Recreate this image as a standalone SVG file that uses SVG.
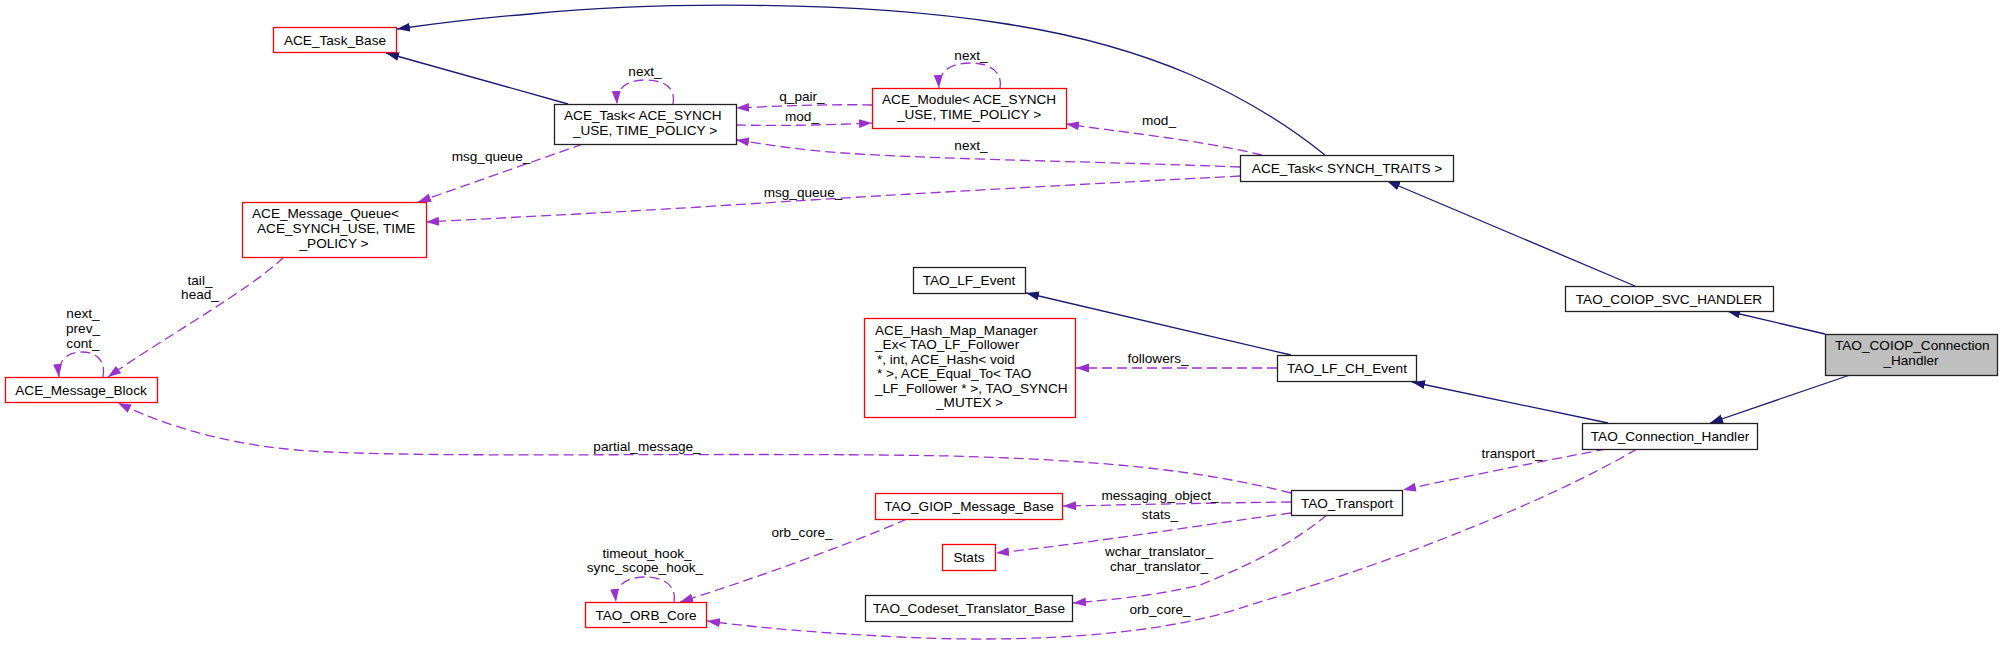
<svg xmlns="http://www.w3.org/2000/svg" width="2003" height="648" viewBox="0 0 2003 648">
<style>
text{font-family:"Liberation Sans",Arial,Helvetica,sans-serif;font-size:13.6px;fill:#000}
.m{text-anchor:middle}
.s{text-anchor:start}
rect{fill:#fff;stroke-width:1.3}
.red{stroke:#ff0000}
.blk{stroke:#222}
.cur{fill:#bfbfbf}
.inh{fill:none;stroke:#191970;stroke-width:1.3;marker-end:url(#ai)}
.col{fill:none;stroke:#9a32cd;stroke-width:1.3;stroke-dasharray:10,5;marker-end:url(#ac)}
</style>
<defs>
<marker id="ai" markerUnits="userSpaceOnUse" markerWidth="13" markerHeight="10" refX="13" refY="5" orient="auto"><path d="M0,0.5 L13,5 L0,9.5 Z" fill="#191970" stroke="none"/></marker>
<marker id="ac" markerUnits="userSpaceOnUse" markerWidth="13" markerHeight="10" refX="13" refY="5" orient="auto"><path d="M0,0.5 L13,5 L0,9.5 Z" fill="#9a32cd" stroke="none"/></marker>
</defs>
<rect x="0" y="0" width="2003" height="648" style="fill:#fff;stroke:none"/>
<g id="edges">
<path class="inh" d="M1325,155 C1250,95 1150,45 1000,23 C850,0 650,2 530,14 C480,18 440,23 397,29"/>
<path class="inh" d="M568,104 L386,53"/>
<path class="inh" d="M1291,355 L1026,293"/>
<path class="inh" d="M1608,423 L1412,382"/>
<path class="inh" d="M1850,375 L1710,423"/>
<path class="inh" d="M1825,334 L1727,311"/>
<path class="inh" d="M1635,286 L1387,181"/>
<path class="col" d="M673,104 C676,88 665,80 645,80 C627,80 616,88 617,104"/>
<path class="col" d="M872,105 C830,104 780,106 736,108"/>
<path class="col" d="M736,125 C780,126 830,125 872,123"/>
<path class="col" d="M1000,88 C1003,72 990,63 970,63 C950,63 938,72 939,88"/>
<path class="col" d="M1262,155 C1200,140 1120,132 1066,124"/>
<path class="col" d="M1240,167 C1120,162 950,160 843,153 C800,150 770,145 736,140"/>
<path class="col" d="M1240,176 C1050,186 900,194 700,207 C600,213 500,218 426,222"/>
<path class="col" d="M583,144 L418,202"/>
<path class="col" d="M284,257 C250,290 160,340 108,377"/>
<path class="col" d="M103,377 C106,360 96,352 82,352 C68,352 57,360 59,377"/>
<path class="col" d="M1291,493 C1200,470 1100,460 950,456 C750,452 450,458 330,452 C240,449 170,428 118,403"/>
<path class="col" d="M1291,502 C1200,503 1120,505 1063,506"/>
<path class="col" d="M1291,513 C1200,525 1100,542 996,553"/>
<path class="col" d="M1327,515 C1290,545 1250,565 1200,585 C1160,595 1110,600 1073,603"/>
<path class="col" d="M1606,449 C1550,460 1470,475 1403,490"/>
<path class="col" d="M1637,449 C1550,500 1400,560 1250,605 C1150,640 1000,642 900,637 C820,633 760,628 707,621"/>
<path class="col" d="M907,519 C840,548 750,580 680,602"/>
<path class="col" d="M674,602 C677,585 663,577 645,577 C627,577 614,585 616,602"/>
<path class="col" d="M1277,368 L1076,368"/>
<text class="m" x="645" y="76">next_</text>
<text class="m" x="802" y="101">q_pair_</text>
<text class="m" x="802" y="121">mod_</text>
<text class="m" x="971" y="60">next_</text>
<text class="m" x="1159" y="125">mod_</text>
<text class="m" x="971" y="150">next_</text>
<text class="m" x="803" y="197">msg_queue_</text>
<text class="m" x="491" y="161">msg_queue_</text>
<text class="m" x="200" y="285">tail_</text>
<text class="m" x="200" y="299">head_</text>
<text class="m" x="83" y="318">next_</text>
<text class="m" x="83" y="333">prev_</text>
<text class="m" x="83" y="348">cont_</text>
<text class="m" x="647" y="451">partial_message_</text>
<text class="m" x="1160" y="500">messaging_object_</text>
<text class="m" x="1160" y="519">stats_</text>
<text class="m" x="1159" y="556">wchar_translator_</text>
<text class="m" x="1159" y="571">char_translator_</text>
<text class="m" x="1512" y="458">transport_</text>
<text class="m" x="1160" y="614">orb_core_</text>
<text class="m" x="802" y="537">orb_core_</text>
<text class="m" x="647" y="558">timeout_hook_</text>
<text class="m" x="645" y="572">sync_scope_hook_</text>
<text class="m" x="1158" y="363">followers_</text>
</g>
<g id="n_ace_task_base"><rect class="red" x="273.5" y="27.5" width="123" height="25"/><text class="m" x="335" y="44.5">ACE_Task_Base</text></g>
<g id="n_ace_task_acesynch"><rect class="blk" x="554.5" y="104.5" width="182" height="40"/><text class="s" x="564" y="120">ACE_Task&lt; ACE_SYNCH</text><text class="m" x="645" y="134.5">_USE, TIME_POLICY &gt;</text></g>
<g id="n_ace_module"><rect class="red" x="872.5" y="88.5" width="194" height="40"/><text class="s" x="882" y="104">ACE_Module&lt; ACE_SYNCH</text><text class="m" x="969" y="119">_USE, TIME_POLICY &gt;</text></g>
<g id="n_ace_task_traits"><rect class="blk" x="1240.5" y="155.5" width="213" height="26"/><text class="m" x="1347" y="172.5">ACE_Task&lt; SYNCH_TRAITS &gt;</text></g>
<g id="n_ace_message_queue"><rect class="red" x="242.5" y="202.5" width="184" height="55"/><text class="s" x="252" y="218">ACE_Message_Queue&lt;</text><text class="s" x="257" y="233">ACE_SYNCH_USE, TIME</text><text class="m" x="334" y="247.5">_POLICY &gt;</text></g>
<g id="n_ace_message_block"><rect class="red" x="5.5" y="377.5" width="152" height="25"/><text class="m" x="81" y="394.5">ACE_Message_Block</text></g>
<g id="n_tao_lf_event"><rect class="blk" x="913.5" y="267.5" width="112" height="26"/><text class="m" x="969" y="284.5">TAO_LF_Event</text></g>
<g id="n_ace_hash_map"><rect class="red" x="864.5" y="318.5" width="211" height="99"/><text class="s" x="875" y="335">ACE_Hash_Map_Manager</text><text class="s" x="875" y="349.4">_Ex&lt; TAO_LF_Follower</text><text class="s" x="877" y="363.8">*, int, ACE_Hash&lt; void</text><text class="s" x="877" y="378.2">* &gt;, ACE_Equal_To&lt; TAO</text><text class="s" x="875" y="392.6">_LF_Follower * &gt;, TAO_SYNCH</text><text class="m" x="969.5" y="407">_MUTEX &gt;</text></g>
<g id="n_tao_lf_ch_event"><rect class="blk" x="1277.5" y="355.5" width="139" height="26"/><text class="m" x="1347" y="372.5">TAO_LF_CH_Event</text></g>
<g id="n_tao_coiop_svc_handler"><rect class="blk" x="1565.5" y="286.5" width="208" height="25"/><text class="m" x="1669" y="303.5">TAO_COIOP_SVC_HANDLER</text></g>
<g id="n_tao_coiop_connection_handler"><rect class="blk cur" x="1825.5" y="334.5" width="172" height="41"/><text class="s" x="1835" y="350">TAO_COIOP_Connection</text><text class="m" x="1911" y="365">_Handler</text></g>
<g id="n_tao_connection_handler"><rect class="blk" x="1582.5" y="423.5" width="175" height="26"/><text class="m" x="1670" y="440.5">TAO_Connection_Handler</text></g>
<g id="n_tao_transport"><rect class="blk" x="1291.5" y="490.5" width="111" height="25"/><text class="m" x="1347" y="507.5">TAO_Transport</text></g>
<g id="n_tao_giop_message_base"><rect class="red" x="875.5" y="493.5" width="187" height="26"/><text class="m" x="969" y="510.5">TAO_GIOP_Message_Base</text></g>
<g id="n_stats"><rect class="red" x="942.5" y="544.5" width="53" height="26"/><text class="m" x="969" y="561.5">Stats</text></g>
<g id="n_tao_codeset_translator_base"><rect class="blk" x="865.5" y="595.5" width="207" height="26"/><text class="m" x="969" y="612.5">TAO_Codeset_Translator_Base</text></g>
<g id="n_tao_orb_core"><rect class="red" x="585.5" y="602.5" width="121" height="25"/><text class="m" x="646" y="619.5">TAO_ORB_Core</text></g>
</svg>
